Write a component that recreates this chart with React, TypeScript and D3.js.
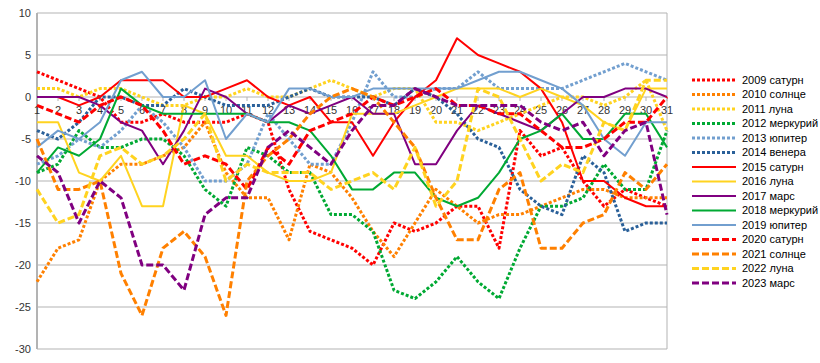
import React from 'react';
import * as d3 from 'd3';

const WIDTH = 820;
const HEIGHT = 363;

const days = d3.range(1, 32).map(String);
const yTicks = [10, 5, 0, -5, -10, -15, -20, -25, -30];

const s2009 = [3, 2, 1, 0, -3, -3, -2, -3, -3, -3, -2, -3, -11, -16, -17, -18, -20, -15, -16, -15, -13, -13, -18, -4, -7, -6, -10, -13, -11, -12, -13];
const s2010 = [-22, -18, -17, -10, -8, -8, -7, -6, -3, -9, -12, -12, -17, -8, -9, -12, -16, -19, -15, -11, -13, -15, -14, -14, -13, -12, -11, -11, -12, -12, -12];
const s2011 = [1, 1, 0, 1, 1, 0, -1, -1, 0, 0, 1, 0, 0, 1, 2, 1, 0, 1, 1, -3, -3, -4, -3, -2, -1, 0, 0, -1, 0, 2, -4];
const s2012 = [-9, -8, -4, -6, -6, -5, -5, -7, -11, -13, -6, -7, -9, -9, -14, -14, -16, -23, -24, -22, -19, -22, -24, -18, -13, -13, -12, -8, -11, -11, -4];
const s2013 = [-8, -7, -5, -6, -4, -1, -3, -6, -10, -10, -8, -2, -5, -8, -8, -3, 3, 0, 0, 1, 1, 3, 1, 1, 1, 1, 2, 3, 4, 3, 2];
const s2014 = [-4, -5, -3, 0, 0, -1, -1, 1, 0, -1, -1, -1, 0, 1, 0, 0, 0, -1, 1, 0, -2, -5, -6, -11, -13, -14, -7, -9, -16, -15, -15];
const s2015 = [0, 0, -1, 0, 2, 2, 2, 0, 0, 1, 2, 0, -1, 0, -3, -3, -7, -3, 0, 2, 7, 5, 4, 3, 1, -3, -10, -10, -12, -13, -13];
const s2016 = [-3, -3, -9, -10, -7, -13, -13, -1, -2, -7, -7, -9, -10, -10, -9, -2, -2, -2, -1, 0, 1, 1, 1, 0, 1, 0, -1, -3, -4, 1, 1];
const s2017 = [0, 0, 0, -1, -3, -4, -8, -4, 1, 0, -2, -3, -1, -2, -1, 0, -2, -2, -8, -8, -4, -1, -2, -3, -4, -2, 0, 0, 1, 1, 0];
const s2018 = [-9, -6, -7, -5, 1, -1, -2, -2, -2, -2, -2, -3, -3, -4, -7, -11, -11, -9, -9, -12, -13, -12, -9, -5, -4, -2, -5, -5, -2, -2, -6];
const s2019 = [-6, -4, -5, -3, 2, 3, 0, 0, 2, -5, -2, -3, 1, 1, 0, 0, 1, 1, 1, 1, 1, 2, 3, 3, 2, 1, -1, -5, -7, -3, -3];
const s2020 = [-1, -2, -3, -1, 0, -1, -4, -8, -7, -8, -11, -6, -8, -4, -3, -2, 0, -1, 0, 1, -1, -1, -2, -2, -4, -6, -6, -5, -3, -3, 0];
const s2021 = [-5, -11, -11, -10, -21, -26, -18, -16, -19, -26, -10, -7, -5, -2, 0, 1, 0, -3, -6, -12, -17, -17, -11, -9, -18, -18, -15, -14, -9, -11, -8];
const s2022 = [-11, -15, -14, -7, -6, -8, -7, -5, -2, -10, -8, -9, -9, -9, -11, -10, -9, -11, -6, -13, -10, 1, 0, -5, -10, -8, -9, -3, -4, 2, 2];
const s2023 = [-7, -9, -15, -10, -12, -20, -20, -23, -14, -12, -12, -6, -4, -6, -8, -4, -1, -1, 1, 0, -1, -1, -1, -1, -3, -4, -3, -7, -4, -3, -14];

const series = [
  { name: '2009 сатурн', values: s2009, color: '#ff0000', style: 'dot' },
  { name: '2010 солнце', values: s2010, color: '#ff8000', style: 'dot' },
  { name: '2011 луна', values: s2011, color: '#ffd320', style: 'dot' },
  { name: '2012 меркурий', values: s2012, color: '#00a933', style: 'dot' },
  { name: '2013 юпитер', values: s2013, color: '#729fcf', style: 'dot' },
  { name: '2014 венера', values: s2014, color: '#2a6099', style: 'dot' },
  { name: '2015 сатурн', values: s2015, color: '#ff0000', style: 'solid' },
  { name: '2016 луна', values: s2016, color: '#ffd320', style: 'solid' },
  { name: '2017 марс', values: s2017, color: '#800080', style: 'solid' },
  { name: '2018 меркурий', values: s2018, color: '#00a933', style: 'solid' },
  { name: '2019 юпитер', values: s2019, color: '#729fcf', style: 'solid' },
  { name: '2020 сатурн', values: s2020, color: '#ff0000', style: 'dash' },
  { name: '2021 солнце', values: s2021, color: '#ff8000', style: 'dash' },
  { name: '2022 луна', values: s2022, color: '#ffd320', style: 'dash' },
  { name: '2023 марс', values: s2023, color: '#800080', style: 'dash' },
];

const strokeFor = (style: string) => {
  if (style === 'dot') return { width: 3, dash: '3 2' };
  if (style === 'dash') return { width: 3, dash: '7 3' };
  return { width: 2, dash: undefined };
};

export default function App() {
  const x = d3.scalePoint<string>().domain(days).range([37, 667]);
  const y = d3.scaleLinear().domain([-30, 10]).range([349, 13]);
  const line = d3.line<number>()
    .x((_, i) => x(days[i]) as number)
    .y(d => y(d));

  const font = '"Liberation Sans", Arial, sans-serif';

  return (
    <svg
      xmlns="http://www.w3.org/2000/svg"
      width={WIDTH}
      height={HEIGHT}
      style={{ position: 'absolute', left: 0, top: 0, background: '#fff' }}
      fontFamily={font}
    >
      <rect width={WIDTH} height={HEIGHT} fill="#fff" />
      {yTicks.map(t => (
        <g key={t}>
          <line x1={37} x2={667} y1={y(t)} y2={y(t)} stroke="#b3b3b3" strokeWidth={1} />
          <text x={31} y={y(t)} dy="0.35em" textAnchor="end" fontSize={11} fill="#333">{t}</text>
        </g>
      ))}
      <line x1={37} x2={37} y1={y(10)} y2={y(-30)} stroke="#b3b3b3" strokeWidth={2} />
      <line x1={667} x2={667} y1={y(10)} y2={y(-30)} stroke="#b3b3b3" strokeWidth={1} />
      {days.map(d => (
        <g key={d}>
          <line x1={x(d)} x2={x(d)} y1={y(0)} y2={y(0) + 4} stroke="#b3b3b3" />
          <text x={x(d)} y={y(0) + 17} textAnchor="middle" fontSize={11} fill="#333">{d}</text>
        </g>
      ))}
      {series.map(s => {
        const st = strokeFor(s.style);
        return (
          <path
            key={s.name}
            d={line(s.values) ?? ''}
            fill="none"
            stroke={s.color}
            strokeWidth={st.width}
            strokeDasharray={st.dash}
            strokeLinejoin="round"
          />
        );
      })}
      {series.map((s, i) => {
        const st = strokeFor(s.style);
        const ly = 80 + i * 14.5;
        return (
          <g key={s.name}>
            <line x1={692} x2={736} y1={ly} y2={ly} stroke={s.color} strokeWidth={st.width} strokeDasharray={st.dash} />
            <text x={742} y={ly} dy="0.35em" fontSize={11} fill="#000">{s.name}</text>
          </g>
        );
      })}
    </svg>
  );
}
